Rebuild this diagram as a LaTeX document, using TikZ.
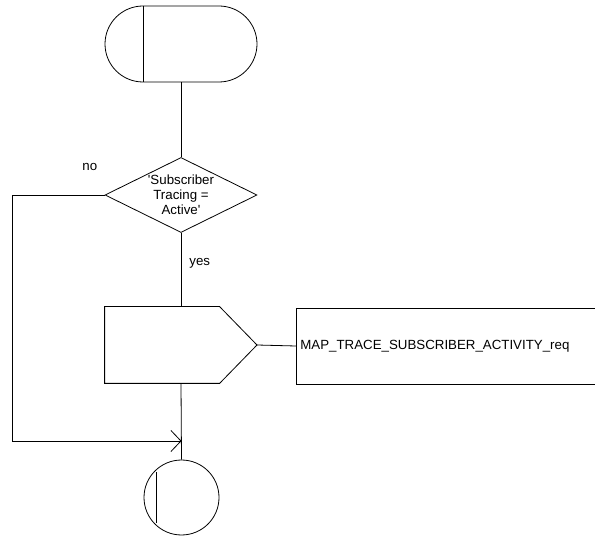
\documentclass[tikz,border=0pt]{standalone}
\usepackage{fontspec}
\setmainfont{Liberation Sans}[Ligatures=TeXOff]
\usetikzlibrary{shapes.geometric,shapes.misc,arrows.meta}
\begin{document}
\begin{tikzpicture}[x=1pt,y=-1pt,
  line width=0.8pt,
  every node/.style={font=\fontsize{13.3}{15}\selectfont},
  lbl/.style={inner sep=0pt},
  term/.style={draw,rounded rectangle,minimum width=152pt,minimum height=76pt,inner sep=0pt},
  decision/.style={draw,diamond,minimum width=152pt,minimum height=75pt,inner sep=0pt,shape aspect=2,align=center},
  box/.style={rectangle,minimum width=152pt,minimum height=76pt,inner sep=0pt},
  sigbox/.style={draw,rectangle,minimum width=304pt,minimum height=76pt,inner sep=0pt},
  stopc/.style={draw,circle,minimum size=75pt,inner sep=0pt},
  openarrow/.style={-{Straight Barb[length=10pt,width=21pt,line width=0.8pt]}}
]
\clip (0,0) rectangle (595,537);
\node[term] (start) at (181,44) {};
\draw ([xshift=-38pt]start.north) -- ([xshift=-38pt]start.south);

\node[decision] (dec) at (181,195) {'Subscriber\\Tracing =\\Active'};

\node[box] (out) at (181,345) {};
\coordinate (outtip) at (257,345);
\draw (out.north west) -- ([xshift=115pt]out.north west) -- (outtip)
      -- ([xshift=115pt]out.south west) -- (out.south west) -- cycle;

\node[sigbox,anchor=west] (sig) at (296,346) {};
\node[lbl,anchor=west] (sigtext) at (300,346) {MAP\_TRACE\_SUBSCRIBER\_ACTIVITY\_req};

\node[stopc] (stop) at (181.5,497.5) {};
\draw ([shift={(-25pt,-25pt)}]stop.center) -- ([shift={(-25pt,25pt)}]stop.center);

\coordinate (c1) at (12,195);
\coordinate (c2) at (12,441);
\coordinate (join) at (181.5,441);

\draw (start.south) -- (dec.north);
\draw (dec.south) -- (out.north);
\draw (outtip) -- (sig.west);
\draw (out.south) -- (stop.north);
\draw[openarrow] (dec.west) -- (c1) -- (c2) -- (join);

\node[lbl,anchor=west] (no) at (82,167) {no};
\node[lbl,anchor=west] (yes) at (189,263) {yes};
\end{tikzpicture}
\end{document}
